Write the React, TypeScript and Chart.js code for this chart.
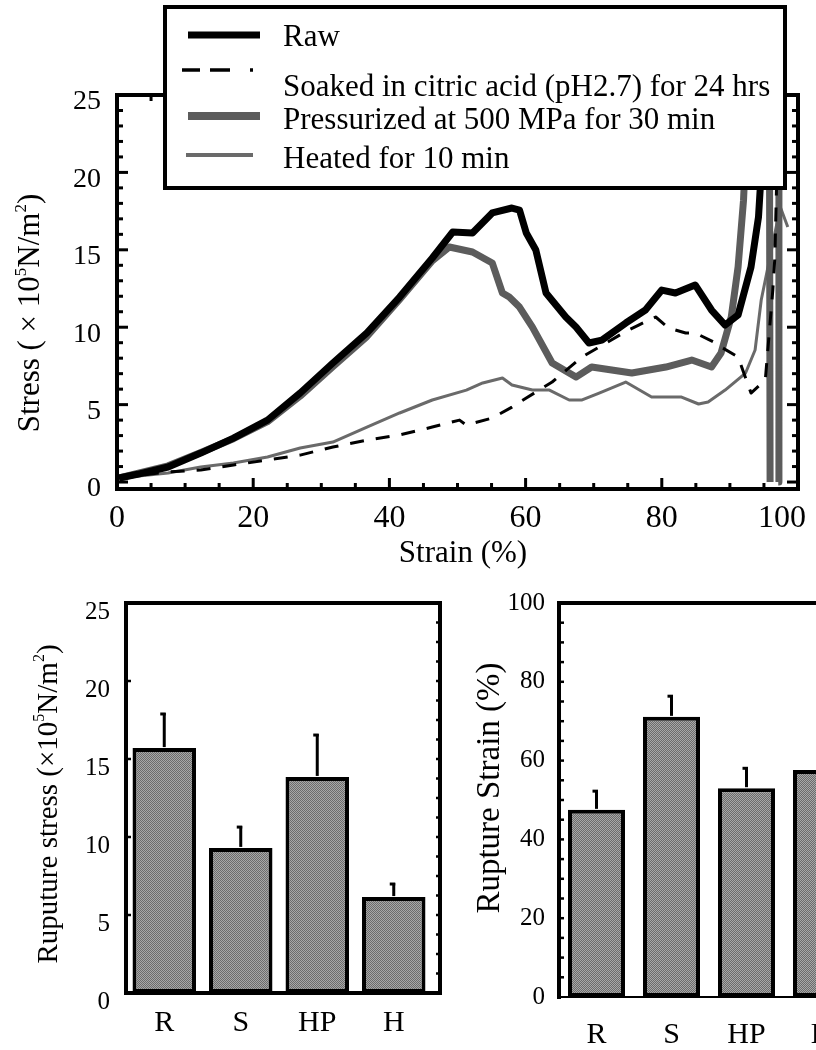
import React, { useEffect, useRef } from 'react';
import { Chart, registerables } from 'chart.js';

Chart.register(...registerables);

const SERIF = "'Liberation Serif', 'Times New Roman', serif";

// ---------- Top chart: stress-strain curves ----------
const rawStrain = [0.3, 3, 7.5, 12.3, 17.1, 22.1, 26.9, 31.7, 36.7, 41.5, 46.3, 49.3, 52.2, 55.1, 58.0, 59.1, 60.1, 61.5, 63.0, 65.9, 67.4, 69.3, 71.2, 74.7, 77.6, 80.0, 82.0, 84.9, 87.3, 89.3, 91.2, 93.1, 94.2, 94.6, 95.0];
const rawStress = [0.26, 0.5, 0.97, 1.87, 2.84, 4.0, 5.75, 7.69, 9.63, 11.95, 14.47, 16.15, 16.09, 17.38, 17.7, 17.57, 16.09, 14.99, 12.21, 10.66, 10.01, 8.98, 9.17, 10.27, 11.11, 12.4, 12.21, 12.73, 11.11, 10.14, 10.79, 13.89, 17.12, 20, 26];

const soakedStrain = [0.3, 7.5, 12.3, 17.1, 22.1, 26.9, 31.7, 36.7, 41.5, 46.3, 50.3, 51.3, 55.1, 58.0, 60.1, 63.9, 68.3, 75.1, 76.6, 79.1, 81.0, 83.5, 84.9, 87.9, 88.7, 91.2, 93.1, 95.2, 96.3, 96.6, 96.9, 97.1];
const soakedStress = [0.26, 0.65, 0.78, 1.1, 1.42, 1.74, 2.26, 2.71, 3.04, 3.55, 4.0, 3.68, 4.13, 4.84, 5.43, 6.46, 8.08, 9.82, 10.14, 10.66, 9.95, 9.63, 9.63, 8.98, 8.72, 8.08, 5.75, 6.59, 12.4, 14.5, 20, 26];

const pressStrain = [0.3, 3, 7.5, 12.3, 17.1, 22.1, 26.9, 31.7, 36.7, 41.5, 46.3, 48.8, 52.2, 55.1, 56.6, 57.6, 59.1, 61.0, 63.9, 67.4, 69.7, 75.6, 80.6, 84.4, 87.3, 88.7, 90.2, 91.2, 92.0, 92.8, 95.8, 95.9, 96.5, 97.1, 97.2];
const pressStress = [0.26, 0.55, 1.05, 1.9, 2.8, 3.9, 5.55, 7.45, 9.4, 11.8, 14.3, 15.18, 14.86, 14.15, 12.21, 11.95, 11.3, 10.01, 7.69, 6.78, 7.43, 7.04, 7.43, 7.88, 7.43, 8.33, 10.66, 13.89, 18.2, 26, 26, 0, null, 0, 26];

const heatedStrain = [0.3, 7.5, 12.3, 17.1, 22.1, 26.9, 31.7, 36.7, 41.5, 46.3, 51.3, 53.7, 56.6, 58.0, 61.0, 63.5, 66.4, 68.3, 70.8, 74.7, 78.5, 82.9, 85.4, 86.8, 89.3, 92.3, 93.7, 94.6, 96.1, 97.4, 98.5];
const heatedStress = [0.26, 0.58, 0.97, 1.23, 1.62, 2.2, 2.58, 3.55, 4.46, 5.3, 5.94, 6.4, 6.72, 6.27, 5.94, 5.94, 5.3, 5.3, 5.75, 6.46, 5.49, 5.49, 5.04, 5.17, 5.94, 7.04, 8.53, 11.76, 14.99, 17.76, 16.47];

const strainTicks = [0, 20, 40, 60, 80, 100];
const stressTicks = [0, 5, 10, 15, 20, 25];
const legendLabels = [
  'Raw',
  'Soaked in citric acid (pH2.7) for 24 hrs',
  'Pressurized at 500 MPa for 30 min',
  'Heated for 10 min',
];

// ---------- Bottom charts ----------
const barCategories = ['R', 'S', 'HP', 'H'];
const ruptureStress = [15.7, 9.3, 13.85, 6.15];
const ruptureStressErr = [2.25, 1.4, 2.75, 0.9];
const ruptureStressTicks = [0, 5, 10, 15, 20, 25];
const ruptureStrain = [47.5, 71.1, 53.0, 57.6];
const ruptureStrainErr = [5.0, 5.5, 5.3, 4.5];
const ruptureStrainTicks = [0, 20, 40, 60, 80, 100];

const pts = (xs: number[], ys: (number | null)[]) => xs.map((x, i) => ({ x, y: ys[i] }));

type Part = { t: string; sup?: boolean };
function drawRich(ctx: CanvasRenderingContext2D, parts: Part[], cx: number, cy: number, size: number, rotate: boolean) {
  ctx.save();
  ctx.translate(cx, cy);
  if (rotate) ctx.rotate(-Math.PI / 2);
  const supSize = Math.round(size * 0.55);
  let total = 0;
  const widths = parts.map((p) => {
    ctx.font = `${p.sup ? supSize : size}px ${SERIF}`;
    const w = ctx.measureText(p.t).width;
    total += w;
    return w;
  });
  let x = -total / 2;
  ctx.textAlign = 'left';
  ctx.textBaseline = 'alphabetic';
  ctx.fillStyle = '#000';
  const base = size * 0.33;
  parts.forEach((p, i) => {
    ctx.font = `${p.sup ? supSize : size}px ${SERIF}`;
    ctx.fillText(p.t, x, p.sup ? base - size * 0.42 : base);
    x += widths[i];
  });
  ctx.restore();
}

function seg(ctx: CanvasRenderingContext2D, x1: number, y1: number, x2: number, y2: number) {
  ctx.beginPath();
  ctx.moveTo(x1, y1);
  ctx.lineTo(x2, y2);
  ctx.stroke();
}

function makePattern(ctx: CanvasRenderingContext2D) {
  const c = document.createElement('canvas');
  c.width = 2;
  c.height = 2;
  const g = c.getContext('2d')!;
  g.fillStyle = '#a8a8a8';
  g.fillRect(0, 0, 2, 2);
  g.fillStyle = '#6c6c6c';
  g.fillRect(0, 0, 1, 1);
  g.fillRect(1, 1, 1, 1);
  return ctx.createPattern(c, 'repeat') || '#8a8a8a';
}

const topPlugin = {
  id: 'topDecor',
  afterDatasetsDraw(chart: any) {
    const { ctx, chartArea: a, scales } = chart;
    const xs = scales.x;
    const ys = scales.y;
    ctx.save();
    ctx.strokeStyle = '#000';
    ctx.lineWidth = 4;
    ctx.strokeRect(a.left, a.top, a.right - a.left, a.bottom - a.top);
    ctx.lineWidth = 3;
    for (let v = 0; v <= 100; v += 5) {
      const px = xs.getPixelForValue(v);
      const len = v % 20 === 0 ? 11 : 6;
      seg(ctx, px, a.bottom, px, a.bottom - len);
      seg(ctx, px, a.top, px, a.top + len);
    }
    for (let v = 0; v <= 25; v += 1) {
      const py = ys.getPixelForValue(v);
      const len = v % 5 === 0 ? 11 : 6;
      seg(ctx, a.left, py, a.left + len, py);
      seg(ctx, a.right, py, a.right - len, py);
    }
    ctx.restore();
    drawRich(ctx, [{ t: 'Strain (%)' }], 463, 552, 31, false);
    drawRich(ctx, [{ t: 'Stress ( × 10' }, { t: '5', sup: true }, { t: 'N/m' }, { t: '2', sup: true }, { t: ')' }], 29, 313, 31, true);
  },
  afterDraw(chart: any) {
    const ctx = chart.ctx as CanvasRenderingContext2D;
    ctx.save();
    ctx.fillStyle = '#fff';
    ctx.fillRect(165, 7, 620, 181);
    ctx.strokeStyle = '#000';
    ctx.lineWidth = 4;
    ctx.strokeRect(165, 7, 620, 181);
    // samples
    ctx.lineCap = 'butt';
    ctx.strokeStyle = '#000';
    ctx.lineWidth = 7;
    seg(ctx, 188, 35, 260, 35);
    ctx.lineWidth = 3.5;
    ctx.setLineDash([18, 10, 20, 20, 3, 100]);
    seg(ctx, 182, 70, 253, 70);
    ctx.setLineDash([]);
    ctx.strokeStyle = '#5c5c5c';
    ctx.lineWidth = 8;
    seg(ctx, 188, 116, 260, 116);
    ctx.strokeStyle = '#6a6a6a';
    ctx.lineWidth = 4;
    seg(ctx, 186, 155, 253, 155);
    ctx.fillStyle = '#000';
    ctx.font = `31px ${SERIF}`;
    ctx.textAlign = 'left';
    ctx.textBaseline = 'middle';
    const ys = [38, 88, 121, 160];
    legendLabels.forEach((l, i) => ctx.fillText(l, 283, ys[i]));
    ctx.restore();
  },
};

function errorBars(chart: any, errs: number[]) {
  const ctx = chart.ctx as CanvasRenderingContext2D;
  const meta = chart.getDatasetMeta(0);
  const ds = chart.data.datasets[0].data as number[];
  const ys = chart.scales.y;
  ctx.save();
  ctx.strokeStyle = '#000';
  ctx.lineWidth = 3;
  meta.data.forEach((el: any, i: number) => {
    const yTop = ys.getPixelForValue(ds[i] + errs[i]);
    seg(ctx, el.x, el.y - 1, el.x, yTop);
    seg(ctx, el.x + 1.5, yTop + 1, el.x - 4, yTop + 1);
  });
  ctx.restore();
}

const leftPlugin = {
  id: 'leftDecor',
  afterDatasetsDraw(chart: any) {
    const { ctx, chartArea: a, scales } = chart;
    errorBars(chart, ruptureStressErr);
    const right = a.right + 8;
    ctx.save();
    ctx.strokeStyle = '#000';
    ctx.lineWidth = 4;
    ctx.strokeRect(a.left, a.top, right - a.left, a.bottom - a.top);
    ctx.lineWidth = 2.5;
    for (let v = 1.25; v < 25; v += 1.25) {
      const py = scales.y.getPixelForValue(v);
      seg(ctx, right, py, right - 4, py);
    }
    for (let v = 5; v < 25; v += 5) {
      const py = scales.y.getPixelForValue(v);
      seg(ctx, a.left, py, a.left + 5, py);
    }
    ctx.restore();
    drawRich(ctx, [{ t: 'Ruputure stress (×10' }, { t: '5', sup: true }, { t: 'N/m' }, { t: '2', sup: true }, { t: ')' }], 47, 224, 29, true);
  },
};

const rightPlugin = {
  id: 'rightDecor',
  afterDatasetsDraw(chart: any) {
    const { ctx, chartArea: a, scales } = chart;
    errorBars(chart, ruptureStrainErr);
    ctx.save();
    ctx.strokeStyle = '#000';
    ctx.lineWidth = 4;
    seg(ctx, a.left, a.bottom + 2, a.left, a.top);
    seg(ctx, a.left - 2, a.top, chart.width, a.top);
    ctx.lineWidth = 2;
    seg(ctx, a.left, a.bottom, chart.width, a.bottom);
    ctx.lineWidth = 2.5;
    for (let v = 5; v < 100; v += 5) {
      const py = scales.y.getPixelForValue(v);
      seg(ctx, a.left, py, a.left + 5, py);
    }
    ctx.restore();
    drawRich(ctx, [{ t: 'Rupture Strain (%)' }], 33, 208, 33, true);
  },
};

export default function App() {
  const topRef = useRef<HTMLCanvasElement>(null);
  const leftRef = useRef<HTMLCanvasElement>(null);
  const rightRef = useRef<HTMLCanvasElement>(null);

  useEffect(() => {
    Chart.defaults.font.family = SERIF;
    Chart.defaults.color = '#000';

    const lineDs = (label: string, data: any, color: string, width: number, dash: number[] = []) => ({
      label,
      data,
      borderColor: color,
      backgroundColor: color,
      borderWidth: width,
      borderDash: dash,
      pointRadius: 0,
      tension: 0,
      spanGaps: false,
      borderJoinStyle: 'round' as const,
      fill: false,
    });

    const top = new Chart(topRef.current!, {
      type: 'line',
      data: {
        datasets: [
          lineDs(legendLabels[0], pts(rawStrain, rawStress), '#000', 7),
          lineDs(legendLabels[1], pts(soakedStrain, soakedStress), '#000', 3, [14, 12]),
          lineDs(legendLabels[2], pts(pressStrain, pressStress), '#5c5c5c', 7),
          lineDs(legendLabels[3], pts(heatedStrain, heatedStress), '#6a6a6a', 3),
        ],
      },
      options: {
        responsive: false,
        animation: false,
        layout: { padding: { top: 95, right: 18, left: 0, bottom: 0 } },
        plugins: { legend: { display: false }, tooltip: { enabled: false } },
        scales: {
          x: {
            type: 'linear',
            min: 0,
            max: 100,
            grid: { display: false, drawTicks: false },
            border: { display: false },
            afterBuildTicks: (s: any) => { s.ticks = strainTicks.map((v) => ({ value: v })); },
            afterFit: (s: any) => { s.height = 91; s.paddingLeft = 0; s.paddingRight = 0; },
            ticks: {
              font: { size: 32, family: SERIF },
              color: '#000',
              padding: 10,
              maxRotation: 0,
              autoSkip: false,
              callback: (v: any) => (v === 100 ? '100\u2003' : String(v)),
            },
          },
          y: {
            type: 'linear',
            min: -0.45,
            max: 25,
            grid: { display: false, drawTicks: false },
            border: { display: false },
            afterBuildTicks: (s: any) => { s.ticks = stressTicks.map((v) => ({ value: v })); },
            afterFit: (s: any) => { s.width = 117; s.paddingTop = 0; s.paddingBottom = 0; },
            ticks: { font: { size: 28, family: SERIF }, color: '#000', padding: 16, labelOffset: 7, autoSkip: false },
          },
        },
      } as any,
      plugins: [topPlugin],
    });

    const barOpts = (ticks: number[], max: number, yWidth: number, xHeight: number, padRight: number, labelOffset: number, yPad: number, xPad: number) => ({
      responsive: false,
      animation: false,
      layout: { padding: { top: 23, right: padRight, left: 0, bottom: 0 } },
      plugins: { legend: { display: false }, tooltip: { enabled: false } },
      scales: {
        x: {
          type: 'category',
          grid: { display: false, drawTicks: false },
          border: { display: false },
          afterFit: (s: any) => { s.height = xHeight; s.paddingLeft = 0; s.paddingRight = 0; },
          ticks: { font: { size: 30, family: SERIF }, color: '#000', padding: xPad, maxRotation: 0 },
        },
        y: {
          type: 'linear',
          min: 0,
          max,
          grid: { display: false, drawTicks: false },
          border: { display: false },
          afterBuildTicks: (s: any) => { s.ticks = ticks.map((v) => ({ value: v })); },
          afterFit: (s: any) => { s.width = yWidth; s.paddingTop = 0; s.paddingBottom = 0; },
          ticks: { font: { size: 25, family: SERIF }, color: '#000', padding: yPad, labelOffset },
        },
      },
    });

    const leftCtx = leftRef.current!.getContext('2d')!;
    const left = new Chart(leftRef.current!, {
      type: 'bar',
      data: {
        labels: barCategories,
        datasets: [{
          label: 'Rupture stress',
          data: ruptureStress,
          backgroundColor: makePattern(leftCtx) as any,
          borderColor: '#000',
          borderWidth: 4,
          borderSkipped: false,
          barPercentage: 0.83,
          categoryPercentage: 1,
        }],
      },
      options: barOpts(ruptureStressTicks, 25, 126, 57, 23, 9, 16, 12) as any,
      plugins: [leftPlugin],
    });

    const rightCtx = rightRef.current!.getContext('2d')!;
    const right = new Chart(rightRef.current!, {
      type: 'bar',
      data: {
        labels: barCategories,
        datasets: [{
          label: 'Rupture strain',
          data: ruptureStrain,
          backgroundColor: makePattern(rightCtx) as any,
          borderColor: '#000',
          borderWidth: 4,
          borderSkipped: false,
          barPercentage: 0.76,
          categoryPercentage: 1,
        }],
      },
      options: barOpts(ruptureStrainTicks, 100, 104, 53, 41, 0, 14, 20) as any,
      plugins: [rightPlugin],
    });

    return () => {
      top.destroy();
      left.destroy();
      right.destroy();
    };
  }, []);

  return (
    <div style={{ position: 'absolute', left: 0, top: 0, width: 816, height: 1050, overflow: 'hidden', background: '#fff' }}>
      <div style={{ position: 'absolute', left: 0, top: 0 }}>
        <canvas ref={topRef} width={816} height={580} style={{ display: 'block' }} />
      </div>
      <div style={{ position: 'absolute', left: 0, top: 580 }}>
        <canvas ref={leftRef} width={455} height={470} style={{ display: 'block' }} />
      </div>
      <div style={{ position: 'absolute', left: 455, top: 580 }}>
        <canvas ref={rightRef} width={445} height={470} style={{ display: 'block' }} />
      </div>
    </div>
  );
}
